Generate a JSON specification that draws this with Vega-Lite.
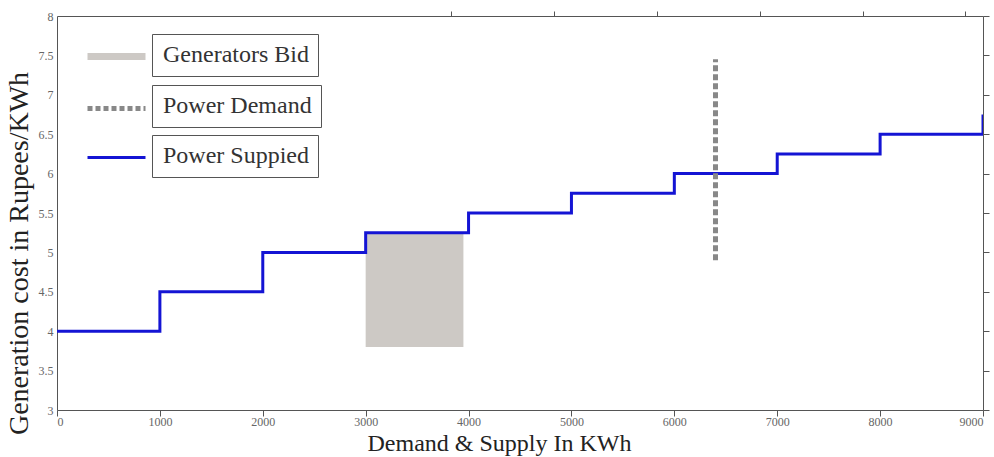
{
  "$schema": "https://vega.github.io/schema/vega-lite/v6.json",
  "width": 926,
  "height": 394,
  "autosize": {"type": "none"},
  "padding": {"left": 57, "top": 16, "right": 11, "bottom": 47},
  "background": "white",
  "config": {
    "view": {"stroke": "#555", "strokeWidth": 1},
    "axis": {
      "grid": false,
      "domain": false,
      "labelFont": "Liberation Serif",
      "labelFontSize": 12,
      "labelColor": "#666",
      "tickColor": "#555",
      "tickWidth": 1,
      "titleFont": "Liberation Serif",
      "titleFontWeight": "normal",
      "titleColor": "#222"
    },
    "legend": {
      "orient": "none",
      "labelFont": "Liberation Serif",
      "labelFontSize": 24,
      "labelColor": "#333"
    }
  },
  "layer": [
    {
      "data": {"values": [{"series": "Generators Bid", "x0": 3000, "x1": 3950, "y0": 3.8, "y1": 5.25}]},
      "mark": {"type": "rect"},
      "encoding": {
        "x": {"field": "x0", "type": "quantitative", "scale": {"domain": [0, 9000], "nice": false, "zero": false},
          "axis": {"values": [0, 1000, 2000, 3000, 4000, 5000, 6000, 7000, 8000, 9000], "format": "d", "ticks": false, "labelPadding": 6, "title": "Demand & Supply In KWh", "titleFontSize": 24, "titleX": 442, "titleY": 21}},
        "x2": {"field": "x1"},
        "y": {"field": "y0", "type": "quantitative", "scale": {"domain": [3, 8], "nice": false, "zero": false},
          "axis": {"values": [3, 3.5, 4, 4.5, 5, 5.5, 6, 6.5, 7, 7.5, 8], "format": "~g", "ticks": false, "labelPadding": 4, "title": "Generation cost in Rupees/KWh", "titleFontSize": 28, "titleX": -24, "titleY": 237}},
        "y2": {"field": "y1"},
        "fill": {"field": "series", "type": "nominal", "scale": {"domain": ["Generators Bid"], "range": ["#cdc9c5"]},
          "legend": {"title": null, "legendX": 95, "legendY": 18, "strokeColor": "#555", "padding": 9, "symbolSize": 4, "symbolOpacity": 0, "labelOffset": -22, "labelExpr": "datum.label + '\u00a0'"}}
      }
    },
    {
      "data": {"values": [
        {"series": "Power Suppied", "x": 0, "y": 4},
        {"series": "Power Suppied", "x": 1000, "y": 4.5},
        {"series": "Power Suppied", "x": 2000, "y": 5},
        {"series": "Power Suppied", "x": 3000, "y": 5.25},
        {"series": "Power Suppied", "x": 4000, "y": 5.5},
        {"series": "Power Suppied", "x": 5000, "y": 5.75},
        {"series": "Power Suppied", "x": 6000, "y": 6},
        {"series": "Power Suppied", "x": 7000, "y": 6.25},
        {"series": "Power Suppied", "x": 8000, "y": 6.5},
        {"series": "Power Suppied", "x": 9000, "y": 6.75}
      ]},
      "mark": {"type": "line", "interpolate": "step-after", "clip": true},
      "encoding": {
        "x": {"field": "x", "type": "quantitative",
          "axis": {"orient": "top", "position": 394, "values": [0, 1000, 2000, 3000, 4000, 5000, 6000, 7000, 8000, 9000], "tickSize": 5, "labels": false, "title": null}},
        "y": {"field": "y", "type": "quantitative",
          "axis": {"orient": "right", "position": 0, "values": [3, 3.5, 4, 4.5, 5, 5.5, 6, 6.5, 7, 7.5, 8], "tickSize": 6, "labels": false, "title": null}},
        "strokeWidth": {"field": "series", "type": "ordinal",
          "scale": {"domain": ["Generators Bid", "Power Demand", "Power Suppied"], "range": [7, 3, 4]},
          "legend": {"title": null, "legendX": 27, "legendY": 8, "padding": 0, "symbolType": "stroke", "symbolSize": 900, "rowPadding": 6, "labelExpr": "''", "labelOffset": 0,
            "encode": {"symbols": {"update": {
              "stroke": {"signal": "datum.value === 'Generators Bid' ? '#cdc9c5' : datum.value === 'Power Demand' ? '#888888' : '#1414d4'"},
              "strokeDash": {"signal": "datum.value === 'Power Demand' ? [5, 3] : [1, 0]"},
              "size": {"value": 3364},
              "shape": {"value": "stroke"},
              "opacity": {"value": 1}
            }}}}},
        "stroke": {"field": "series", "type": "nominal", "scale": {"domain": ["Power Suppied"], "range": ["#1414d4"]},
          "legend": {"title": null, "legendX": 95, "legendY": 119, "strokeColor": "#555", "padding": 9, "symbolSize": 4, "symbolOpacity": 0, "labelOffset": -22, "labelExpr": "datum.label + '\u00a0'"}}
      }
    },
    {
      "data": {"values": [{"series": "Power Demand", "x": 6400, "y0": 4.9, "y1": 7.45}]},
      "mark": {"type": "rule", "color": "#888"},
      "encoding": {
        "x": {"field": "x", "type": "quantitative",
          "axis": {"orient": "bottom", "position": 0, "values": [0, 1000, 2000, 3000, 4000, 5000, 6000, 7000, 8000, 9000], "tickSize": 6, "labels": false, "title": null}},
        "y": {"field": "y0", "type": "quantitative",
          "axis": {"orient": "left", "position": 926, "values": [3, 3.5, 4, 4.5, 5, 5.5, 6, 6.5, 7, 7.5, 8], "tickSize": 5, "labels": false, "title": null}},
        "y2": {"field": "y1"},
        "strokeWidth": {"field": "series", "type": "ordinal"},
        "strokeDash": {"field": "series", "type": "nominal", "scale": {"domain": ["Power Demand"], "range": [[6, 3]]},
          "legend": {"title": null, "legendX": 95, "legendY": 69, "strokeColor": "#555", "padding": 9, "symbolSize": 4, "symbolOpacity": 0, "labelOffset": -22, "labelExpr": "datum.label + '\u00a0'"}}
      }
    }
  ],
  "resolve": {"axis": {"x": "independent", "y": "independent"}}
}
